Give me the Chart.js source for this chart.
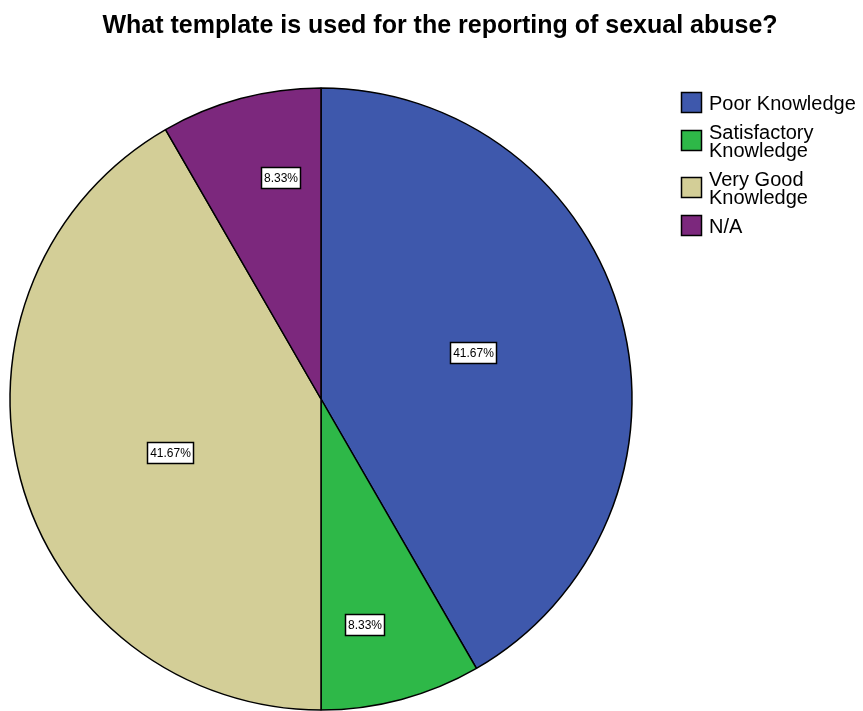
<!DOCTYPE html>
<html>
<head>
<meta charset="utf-8">
<title>Template used for reporting sexual abuse</title>
<script src="https://cdn.jsdelivr.net/npm/chart.js@4"></script>
<style>
  html, body { margin: 0; padding: 0; background: #fff; }
  canvas { display: block; }
</style>
</head>
<body>
<canvas id="templateChart" width="863" height="711"></canvas>
<script>
const chartTitle = 'What template is used for the reporting of sexual abuse?';
const categories = ['Poor Knowledge', 'Satisfactory Knowledge', 'Very Good Knowledge', 'N/A'];
const legendLines = [['Poor Knowledge'], ['Satisfactory', 'Knowledge'], ['Very Good', 'Knowledge'], ['N/A']];
const percentages = [41.67, 8.33, 41.67, 8.33];
const sliceColors = ['#3E58AC', '#2EB848', '#D3CE97', '#7C287D'];

const FONT = '"Liberation Sans", Arial, Helvetica, sans-serif';

// label spot per slice: fraction of the radius, and a small turn (degrees) off the mid angle
const labelSpots = [
  { r: 0.512, turn: -2 },
  { r: 0.74, turn: 4 },
  { r: 0.514, turn: -4.6 },
  { r: 0.723, turn: 4.5 }
];

const titlePlugin = {
  id: 'pageTitle',
  afterDraw(chart) {
    const ctx = chart.ctx;
    ctx.save();
    ctx.font = 'bold 25px ' + FONT;
    ctx.fillStyle = '#000';
    ctx.textAlign = 'center';
    ctx.textBaseline = 'alphabetic';
    ctx.fillText(chartTitle, 440, 33);
    ctx.restore();
  }
};

// white boxed percentage on each slice
const sliceLabels = {
  id: 'sliceLabels',
  afterDatasetsDraw(chart) {
    const ctx = chart.ctx;
    const meta = chart.getDatasetMeta(0);
    ctx.save();
    ctx.font = '12px ' + FONT;
    ctx.textAlign = 'center';
    ctx.textBaseline = 'middle';
    meta.data.forEach((arc, i) => {
      const p = arc.getProps(['x', 'y', 'startAngle', 'endAngle', 'outerRadius'], true);
      const spot = labelSpots[i];
      const mid = (p.startAngle + p.endAngle) / 2 + spot.turn * Math.PI / 180;
      const dist = p.outerRadius * spot.r;
      const cx = p.x + Math.cos(mid) * dist;
      const cy = p.y + Math.sin(mid) * dist;
      const text = percentages[i].toFixed(2) + '%';
      const w = Math.round(ctx.measureText(text).width) + 5;
      const h = 21;
      const bx = Math.round(cx - w / 2) + 0.5;
      const by = Math.round(cy - h / 2) + 0.5;
      ctx.fillStyle = '#fff';
      ctx.fillRect(bx, by, w, h);
      ctx.strokeStyle = '#000';
      ctx.lineWidth = 1.5;
      ctx.strokeRect(bx, by, w, h);
      ctx.fillStyle = '#000';
      ctx.fillText(text, bx + w / 2, by + h / 2 + 1);
    });
    ctx.restore();
  }
};

// legend on the right, with wrapped category names
const sideLegend = {
  id: 'sideLegend',
  afterDraw(chart) {
    const ctx = chart.ctx;
    const boxX = 681, boxSize = 20, textX = 709, lineStep = 18, capH = 14;
    let baseline = 110;
    ctx.save();
    ctx.font = '20px ' + FONT;
    ctx.textAlign = 'left';
    ctx.textBaseline = 'alphabetic';
    categories.forEach((name, i) => {
      const lines = legendLines[i];
      const last = baseline + (lines.length - 1) * lineStep;
      const centre = (baseline - capH + last) / 2 - 1;
      const by = Math.round(centre - boxSize / 2) + 0.5;
      ctx.fillStyle = sliceColors[i];
      ctx.fillRect(boxX + 0.5, by, boxSize, boxSize);
      ctx.strokeStyle = '#000';
      ctx.lineWidth = 1.5;
      ctx.strokeRect(boxX + 0.5, by, boxSize, boxSize);
      ctx.fillStyle = '#000';
      lines.forEach((line, k) => ctx.fillText(line, textX, baseline + k * lineStep));
      baseline = last + 29;
    });
    ctx.restore();
  }
};

new Chart(document.getElementById('templateChart'), {
  type: 'pie',
  data: {
    labels: categories,
    datasets: [{
      data: percentages,
      backgroundColor: sliceColors,
      borderColor: '#000',
      borderWidth: 1.5
    }]
  },
  options: {
    responsive: false,
    animation: false,
    layout: {
      padding: { left: 9.25, right: 230.25, top: 87.25, bottom: 0.25 }
    },
    plugins: {
      legend: { display: false },
      title: { display: false },
      tooltip: { enabled: false }
    }
  },
  plugins: [titlePlugin, sliceLabels, sideLegend]
});
</script>
</body>
</html>
